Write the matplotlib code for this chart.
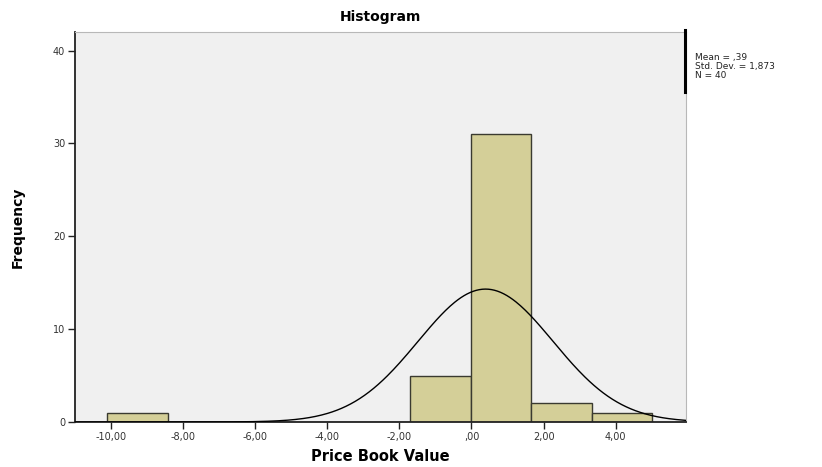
import numpy as np
import matplotlib
matplotlib.use("Agg")
import matplotlib.pyplot as plt

# Histogram counts for Price Book Value
bin_start = -10.1
bin_width = 1.68
counts = [1, 0, 0, 0, 0, 5, 31, 2, 1]

# Summary statistics
mean_val = 0.39
std_val = 1.873
n_obs = 40
stats_lines = ["Mean = ,39", "Std. Dev. = 1,873", "N = 40"]

x_ticks = [-10, -8, -6, -4, -2, 0, 2, 4]
x_tick_labels = ["-10,00", "-8,00", "-6,00", "-4,00", "-2,00", ",00", "2,00", "4,00"]
y_ticks = [0, 10, 20, 30, 40]

fig = plt.figure(figsize=(8.22, 4.67), dpi=100)
fig.patch.set_facecolor("white")
ax = fig.add_axes([0.0912, 0.0964, 0.7433, 0.835])
ax.set_facecolor("#f0f0f0")

edges = bin_start + bin_width * np.arange(len(counts))
ax.bar(edges, counts, width=bin_width, align="edge",
       color="#d4cf98", edgecolor="#3a3a30", linewidth=1.0, zorder=2)

# Normal curve scaled to counts
xs = np.linspace(-11, 5.95, 400)
ys = n_obs * bin_width / (std_val * np.sqrt(2 * np.pi)) * np.exp(-0.5 * ((xs - mean_val) / std_val) ** 2)
ax.plot(xs, ys, color="black", linewidth=1.0, zorder=3)

ax.set_xlim(-11, 5.95)
ax.set_ylim(0, 42)
ax.set_xticks(x_ticks)
ax.set_xticklabels(x_tick_labels, fontsize=7, color="#333333")
ax.set_yticks(y_ticks)
ax.set_yticklabels([str(v) for v in y_ticks], fontsize=7, color="#333333")
ax.tick_params(axis="both", direction="out", length=5, width=1, color="#222222", pad=2)

for side in ("top", "right"):
    ax.spines[side].set_color("#b8b8b8")
    ax.spines[side].set_linewidth(0.8)
for side in ("left", "bottom"):
    ax.spines[side].set_color("#222222")
    ax.spines[side].set_linewidth(1.3)

ax.set_title("Histogram", fontsize=10, fontweight="bold", pad=8)
ax.set_xlabel("Price Book Value", fontsize=10.5, fontweight="bold", labelpad=5)
ax.set_ylabel("Frequency", fontsize=10, fontweight="bold", labelpad=20)

# Stats box at the right of the plot
fig.add_artist(plt.Line2D([0.8333, 0.8333], [1 - 30 / 467, 1 - 92 / 467],
                          color="black", linewidth=2.2))
fig.text(0.846, 1 - 53 / 467, "\n".join(stats_lines),
         fontsize=6.5, va="top", ha="left", linespacing=1.0, color="#222222")

fig.savefig("out.png", dpi=100)
